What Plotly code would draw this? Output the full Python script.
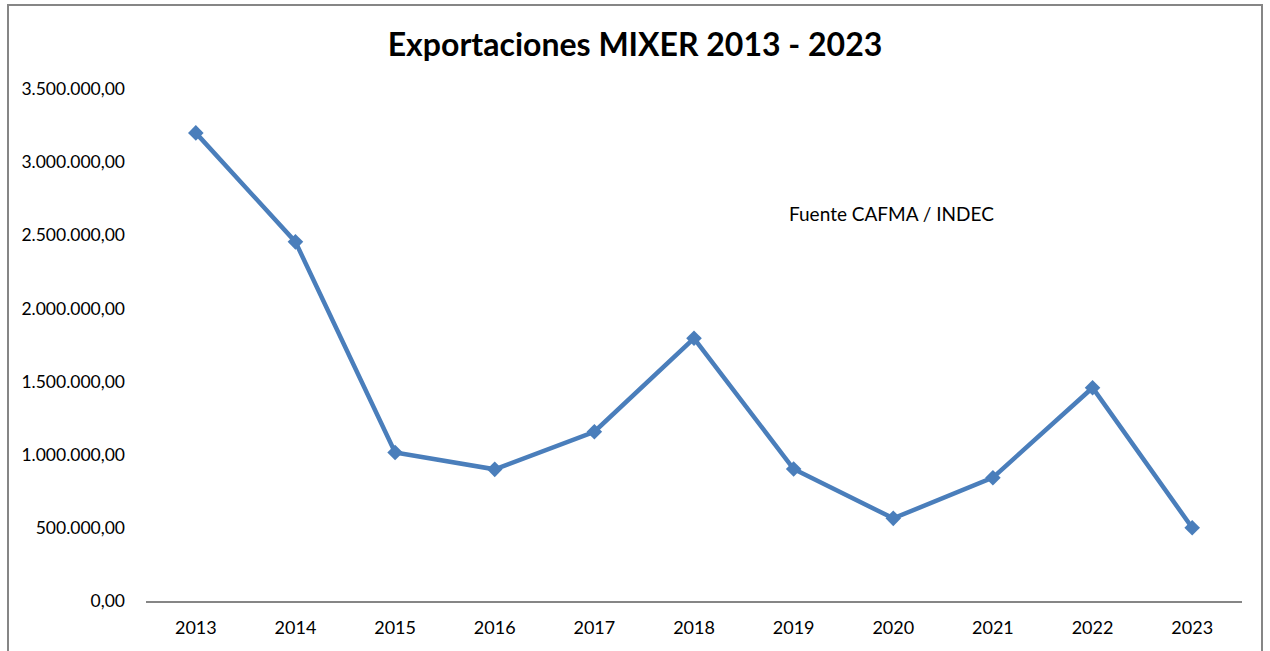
import plotly.graph_objects as go

years = ["2013", "2014", "2015", "2016", "2017", "2018", "2019", "2020", "2021", "2022", "2023"]
exports = [3200000, 2455000, 1015000, 900000, 1157000, 1796000, 902000, 565000, 843000, 1458000, 501000]
y_ticks = [0, 500000, 1000000, 1500000, 2000000, 2500000, 3000000, 3500000]

title_text = "Exportaciones MIXER 2013 - 2023"
source_text = "Fuente CAFMA / INDEC"

fig = go.Figure()
fig.add_trace(go.Scatter(
    x=years, y=exports, mode="lines+markers",
    line=dict(color="#4A7EBB", width=4.5),
    marker=dict(symbol="diamond", size=12, color="#4A7EBB"),
    showlegend=False,
))

W, H = 1270, 651
L, R, T, B = 146, 28, 89, 50
pw = W - L - R
ph = H - T - B

def px2x(px):
    return (px - L) / pw

def py2y(py):
    return (H - B - py) / ph

fig.update_layout(
    width=W, height=H,
    margin=dict(l=L, r=R, t=T, b=B),
    paper_bgcolor="white", plot_bgcolor="white",
    separators=",.",
    title=dict(text="<b>" + title_text + "</b>", x=0.5, xanchor="center",
               y=1 - 45 / H, yanchor="middle",
               font=dict(family="Lato", size=32, color="#000000")),
    xaxis=dict(type="category", range=[-0.5, len(years) - 0.5],
               showgrid=False, zeroline=False,
               showline=True, linecolor="#868686", linewidth=1.5,
               ticks="", ticklabelstandoff=10,
               tickfont=dict(family="Lato", size=18, color="#000000"),
               fixedrange=True),
    yaxis=dict(range=[0, 3500000], tickvals=y_ticks, tickformat=",.2f",
               showgrid=False, zeroline=False, showline=False, ticks="",
               ticklabelstandoff=20,
               tickfont=dict(family="Lato", size=17.5, color="#000000"),
               fixedrange=True),
    shapes=[dict(type="rect", xref="paper", yref="paper",
                 x0=px2x(8), x1=px2x(1262), y0=py2y(660), y1=py2y(5),
                 line=dict(color="#868686", width=2), fillcolor="rgba(0,0,0,0)")],
    annotations=[dict(text=source_text, xref="paper", yref="paper",
                      x=px2x(787), y=py2y(213), xanchor="left", yanchor="middle",
                      showarrow=False,
                      font=dict(family="Lato", size=19, color="#000000"))],
)

fig.write_html("out.html", config={"displayModeBar": False},
               post_script="document.body.style.margin='0';document.body.style.overflow='hidden';")
